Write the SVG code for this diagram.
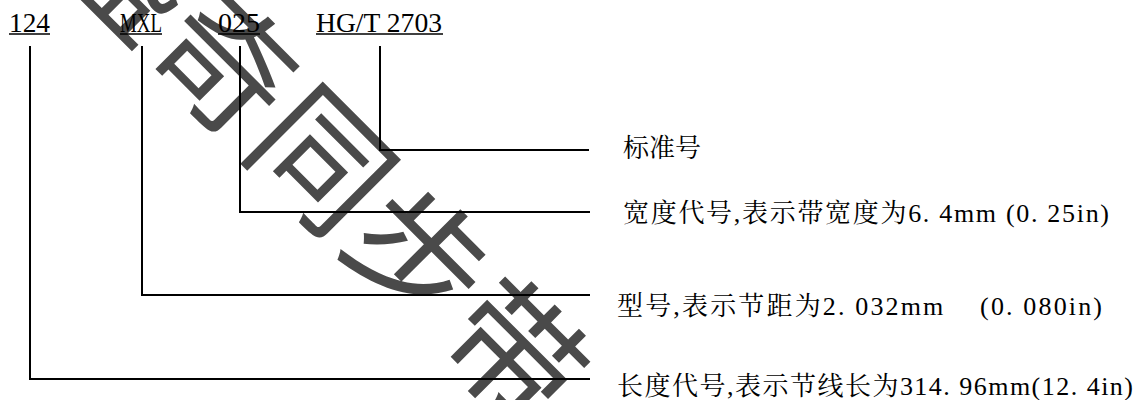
<svg xmlns="http://www.w3.org/2000/svg" width="1140" height="400" viewBox="0 0 1140 400">
  <style>
    .wm { font-family: "Noto Sans CJK SC", sans-serif; font-weight: 400; font-size: 134px; fill: #4a4a4a; }
    .code { font-family: "Liberation Serif", "Noto Sans CJK SC", serif; font-size: 28px; fill: #000; }
    .lbl { font-family: "Liberation Serif", "Noto Serif CJK SC", "Noto Sans CJK SC", serif; font-size: 26px; fill: #000; }
    .ul { stroke: #000; stroke-width: 1.3; fill: none; }
    .conn { stroke: #000; stroke-width: 2; fill: none; }
  </style>
  <rect width="1140" height="400" fill="#fff"/>
  <g id="watermark">
    <text class="wm" transform="rotate(45)" x="2" y="-123" dominant-baseline="central" letter-spacing="2">盛奇同步带</text>
  </g>
  <g id="connectors">
    <polyline class="conn" points="30,46 30,379 590,379"/>
    <polyline class="conn" points="142,46 142,295 590,295"/>
    <polyline class="conn" points="240,46 240,212 590,212"/>
    <polyline class="conn" points="380,46 380,150 589,150"/>
  </g>
  <g id="code-124">
    <text class="code" x="9" y="32" textLength="41" lengthAdjust="spacingAndGlyphs">124</text>
    <line class="ul" x1="9" y1="34" x2="50" y2="34"/>
  </g>
  <g id="code-mxl">
    <text class="code" x="120" y="32" textLength="42" lengthAdjust="spacingAndGlyphs">MXL</text>
    <line class="ul" x1="120" y1="34" x2="162" y2="34"/>
  </g>
  <g id="code-025">
    <text class="code" x="218" y="32" textLength="42" lengthAdjust="spacingAndGlyphs">025</text>
    <line class="ul" x1="218" y1="34" x2="260" y2="34"/>
  </g>
  <g id="code-std">
    <text class="code" x="316" y="32" textLength="126" lengthAdjust="spacingAndGlyphs">HG/T 2703</text>
    <line class="ul" x1="316" y1="34" x2="443" y2="34"/>
  </g>
  <g id="label-standard">
    <text class="lbl" x="623" y="157">标准号</text>
  </g>
  <g id="label-width">
    <text class="lbl" x="623" y="222" textLength="486" lengthAdjust="spacing" xml:space="preserve">宽度代号,表示带宽度为6. 4mm (0. 25in)</text>
  </g>
  <g id="label-type">
    <text class="lbl" x="617" y="315" textLength="485" lengthAdjust="spacing" xml:space="preserve">型号,表示节距为2. 032mm    (0. 080in)</text>
  </g>
  <g id="label-length">
    <text class="lbl" x="617" y="395" textLength="516" lengthAdjust="spacing" xml:space="preserve">长度代号,表示节线长为314. 96mm(12. 4in)</text>
  </g>
</svg>
